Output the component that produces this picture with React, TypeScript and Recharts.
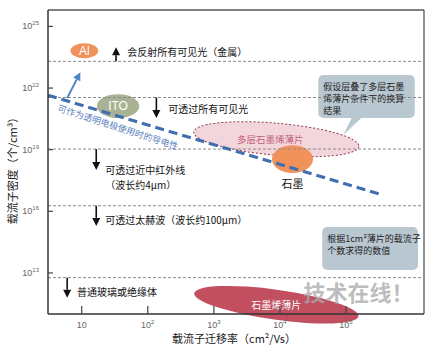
import React from 'react';
import {
  ComposedChart,
  Line,
  XAxis,
  YAxis,
  ReferenceLine,
  ReferenceArea,
  ReferenceDot,
  Label,
} from 'recharts';

// all values are log10: x = mobility (cm²/Vs), y = carrier density (/cm³)
const xTicks = [1, 2, 3, 4, 5];
const yTicks = [13, 16, 19, 22, 25];
const xDomain = [0.49, 6.18];
const yDomain = [11, 25.8];

const thresholds = [23.3, 21.54, 19.03, 16.27, 12.77];

const trendLine = [
  { x: 0.49, y: 21.65 },
  { x: 5.56, y: 16.79 },
];
const trendArrow = [
  { x: 0.78, y: 21.51 },
  { x: 0.98, y: 22.77 },
];
const trendText = { x: 1.55, y: 20.1, text: '可作为透明电极使用时的导电性' };

const materials = [
  { name: 'Al', x1: 0.83, x2: 1.25, y1: 23.45, y2: 24.18 },
  { name: 'ITO', x1: 1.23, x2: 1.87, y1: 20.54, y2: 21.7 },
  { name: '多层石墨烯薄片', x1: 2.69, x2: 5.2, y1: 18.73, y2: 20.29 },
  { name: '石墨', x1: 3.88, x2: 4.5, y1: 17.86, y2: 19.22 },
  { name: '石墨烯薄片', x1: 2.69, x2: 5.2, y1: 10.72, y2: 12.18 },
];

const arrows = [
  { x: 1.52, from: 23.3, to: 23.99 },
  { x: 2.13, from: 21.54, to: 20.54 },
  { x: 1.22, from: 19.03, to: 18.01 },
  { x: 1.22, from: 16.27, to: 15.29 },
  { x: 0.78, from: 12.77, to: 11.79 },
];

const notes = [
  { x: 1.69, y: 23.79, text: '会反射所有可见光（金属）' },
  { x: 2.31, y: 21.02, text: '可透过所有可见光' },
  { x: 1.355, y: 18.03, text: '可透过近中红外线' },
  { x: 1.355, y: 17.31, text: '（波长约4μm）' },
  { x: 1.355, y: 15.58, text: '可透过太赫波（波长约100μm）' },
  { x: 0.93, y: 12.08, text: '普通玻璃或绝缘体' },
];

const callouts = [
  { x1: 4.58, x2: 6.04, y1: 20.54, y2: 22.63, lines: ['假设层叠了多层石墨', '烯薄片条件下的换算', '结果'] },
  { x1: 4.64, x2: 6.09, y1: 13.14, y2: 15.23, lines: ['根据1cm²薄片的载流子', '个数求得的数值'] },
];

const watermark = { x: 5.19, y: 12.13, text: '技术在线！' };

const CJK = '"Noto Sans CJK SC", "Noto Sans", sans-serif';
const LATIN = '"Liberation Sans", Arial, sans-serif';

const materialStyle: Record<string, any> = {
  Al: { fill: '#f0925a', text: '#fff', size: 12, font: LATIN },
  ITO: { fill: '#a9b293', text: '#fff', size: 12, font: LATIN },
  多层石墨烯薄片: { fill: '#f3d6db', stroke: '#8e3d50', dash: '2 2', text: '#c0607c', size: 9.5, rotate: 5, dx: -6 },
  石墨: { fill: '#f0925a', text: '#111', size: 11, dy: 24 },
  石墨烯薄片: { fill: '#c14f60', text: '#fff', size: 10, rotate: 8 },
};

const ellipseShape = (name: string) => (props: any) => {
  const s = materialStyle[name];
  const { x, y, width, height } = props;
  const w = Math.abs(width);
  const h = Math.abs(height);
  const cx = x + w / 2;
  const cy = y + h / 2;
  return (
    <g>
      <ellipse
        cx={cx}
        cy={cy}
        rx={w / 2}
        ry={h / 2}
        fill={s.fill}
        stroke={s.stroke || 'none'}
        strokeDasharray={s.dash}
        transform={`rotate(${s.rotate || 0} ${cx} ${cy})`}
      />
      <text
        x={cx + (s.dx || 0)}
        y={cy + (s.dy || 0)}
        textAnchor="middle"
        dominantBaseline="central"
        fontSize={s.size}
        fill={s.text}
        fontFamily={s.font || CJK}
      >
        {name}
      </text>
    </g>
  );
};

const arrowShape = (color: string, width: number, head: number) => (props: any) => {
  const { x1, y1, x2, y2 } = props;
  const dx = x2 - x1;
  const dy = y2 - y1;
  const len = Math.hypot(dx, dy) || 1;
  const ux = dx / len;
  const uy = dy / len;
  const bx = x2 - ux * head;
  const by = y2 - uy * head;
  const px = -uy * head * 0.5;
  const py = ux * head * 0.5;
  return (
    <g>
      <line x1={x1} y1={y1} x2={bx} y2={by} stroke={color} strokeWidth={width} />
      <polygon points={`${x2},${y2} ${bx + px},${by + py} ${bx - px},${by - py}`} fill={color} />
    </g>
  );
};

const noteShape = (text: string) => (props: any) => (
  <text x={props.cx} y={props.cy} dominantBaseline="central" fontSize={10} fill="#111" fontFamily={CJK}>
    {text}
  </text>
);

const trendTextShape = (props: any) => (
  <text
    x={props.cx}
    y={props.cy}
    textAnchor="middle"
    dominantBaseline="central"
    fontSize={9}
    fill="#5a80c0"
    fontFamily={CJK}
    transform={`rotate(18 ${props.cx} ${props.cy})`}
  >
    {trendText.text}
  </text>
);

const calloutShape = (lines: string[], tail: boolean) => (props: any) => {
  const { x, y, width, height } = props;
  const w = Math.abs(width);
  const h = Math.abs(height);
  return (
    <g>
      <rect x={x} y={y} width={w} height={h} rx={5} fill="#b9c7d1" />
      {tail && <polygon points={`${x + 34},${y + h - 1} ${x + 44},${y + h - 1} ${x + 25},${y + h + 17}`} fill="#b9c7d1" />}
      {lines.map((l, i) => (
        <text key={i} x={x + 5} y={y + 11 + i * 12} dominantBaseline="central" fontSize={9} fill="#222" fontFamily={CJK}>
          {l}
        </text>
      ))}
    </g>
  );
};

const watermarkShape = (props: any) => (
  <text
    x={props.cx}
    y={props.cy}
    textAnchor="middle"
    dominantBaseline="central"
    fontSize={22}
    fill="#a8a8a8"
    fillOpacity={0.75}
    fontWeight="bold"
    fontFamily={CJK}
  >
    {watermark.text}
  </text>
);

const XTick = (props: any) => {
  const { x, y, payload } = props;
  const p = payload.value;
  return (
    <g>
      <line x1={x} y1={y} x2={x} y2={y - 8} stroke="#444" strokeWidth={1.2} />
      <text x={x} y={y + 14} textAnchor="middle" fontSize={9} fill="#666" fontFamily={LATIN}>
        10
        {p > 1 && (
          <tspan dy={-4} fontSize={6}>
            {p}
          </tspan>
        )}
      </text>
    </g>
  );
};

const YTick = (props: any) => {
  const { x, y, payload } = props;
  return (
    <g>
      <line x1={x} y1={y} x2={x + 5} y2={y} stroke="#444" strokeWidth={1.2} />
      <text x={x - 9} y={y + 3} textAnchor="end" fontSize={9} fill="#666" fontFamily={LATIN}>
        10
        <tspan dy={-4} fontSize={6}>
          {payload.value}
        </tspan>
      </text>
    </g>
  );
};

const YTitle = (props: any) => {
  const vb = props.viewBox;
  const cx = vb.x + 12;
  const cy = vb.y + vb.height / 2 + 6;
  return (
    <text x={cx} y={cy} textAnchor="middle" dominantBaseline="central" fontSize={11} fill="#222" fontFamily={CJK} transform={`rotate(-90 ${cx} ${cy})`}>
      载流子密度（个/cm³）
    </text>
  );
};

const XTitle = (props: any) => {
  const vb = props.viewBox;
  return (
    <text x={vb.x + vb.width / 2 - 2} y={vb.y + 24} textAnchor="middle" dominantBaseline="central" fontSize={11} fill="#222" fontFamily={CJK}>
      载流子迁移率（cm²/Vs）
    </text>
  );
};

export default function App() {
  return (
    <div style={{ position: 'absolute', left: 0, top: 0, background: '#fff' }}>
      <ComposedChart width={439} height={352} margin={{ top: 10, right: 15, bottom: 0, left: 0 }}>
        <XAxis
          type="number"
          dataKey="x"
          domain={xDomain}
          ticks={xTicks}
          allowDataOverflow
          height={38}
          tickSize={0}
          tickMargin={0}
          tickLine={false}
          tick={<XTick />}
          axisLine={{ stroke: '#333', strokeWidth: 1.5 }}
        >
          <Label content={<XTitle />} />
        </XAxis>
        <YAxis
          type="number"
          domain={yDomain}
          ticks={yTicks}
          allowDataOverflow
          width={48}
          tickSize={0}
          tickMargin={0}
          tickLine={false}
          tick={<YTick />}
          axisLine={{ stroke: '#333', strokeWidth: 1.5 }}
        >
          <Label content={<YTitle />} />
        </YAxis>

        <ReferenceLine y={yDomain[1]} stroke="#555" strokeWidth={1.3} ifOverflow="visible" />
        <ReferenceLine x={xDomain[1]} stroke="#555" strokeWidth={1.3} ifOverflow="visible" />
        {thresholds.map((v) => (
          <ReferenceLine key={v} y={v} stroke="#8a8a8a" strokeDasharray="3 2" strokeWidth={1} />
        ))}

        {materials.map((m) => (
          <ReferenceArea
            key={m.name}
            x1={m.x1}
            x2={m.x2}
            y1={m.y1}
            y2={m.y2}
            ifOverflow="visible"
            shape={ellipseShape(m.name)}
          />
        ))}

        <Line
          data={trendLine}
          dataKey="y"
          type="linear"
          stroke="#3f6fb0"
          strokeWidth={3.2}
          strokeDasharray="9 5"
          dot={false}
          isAnimationActive={false}
        />
        <ReferenceLine segment={trendArrow} ifOverflow="visible" shape={arrowShape('#4f84c4', 2, 8)} />
        <ReferenceDot x={trendText.x} y={trendText.y} r={0} ifOverflow="visible" shape={trendTextShape} />

        {arrows.map((a, i) => (
          <ReferenceLine
            key={i}
            segment={[
              { x: a.x, y: a.from },
              { x: a.x, y: a.to },
            ]}
            ifOverflow="visible"
            shape={arrowShape('#111', 1.6, 8)}
          />
        ))}
        {notes.map((n, i) => (
          <ReferenceDot key={i} x={n.x} y={n.y} r={0} ifOverflow="visible" shape={noteShape(n.text)} />
        ))}

        {callouts.map((c, i) => (
          <ReferenceArea
            key={i}
            x1={c.x1}
            x2={c.x2}
            y1={c.y1}
            y2={c.y2}
            ifOverflow="visible"
            shape={calloutShape(c.lines, i === 0)}
          />
        ))}
        <ReferenceDot x={watermark.x} y={watermark.y} r={0} ifOverflow="visible" shape={watermarkShape} />
      </ComposedChart>
    </div>
  );
}
